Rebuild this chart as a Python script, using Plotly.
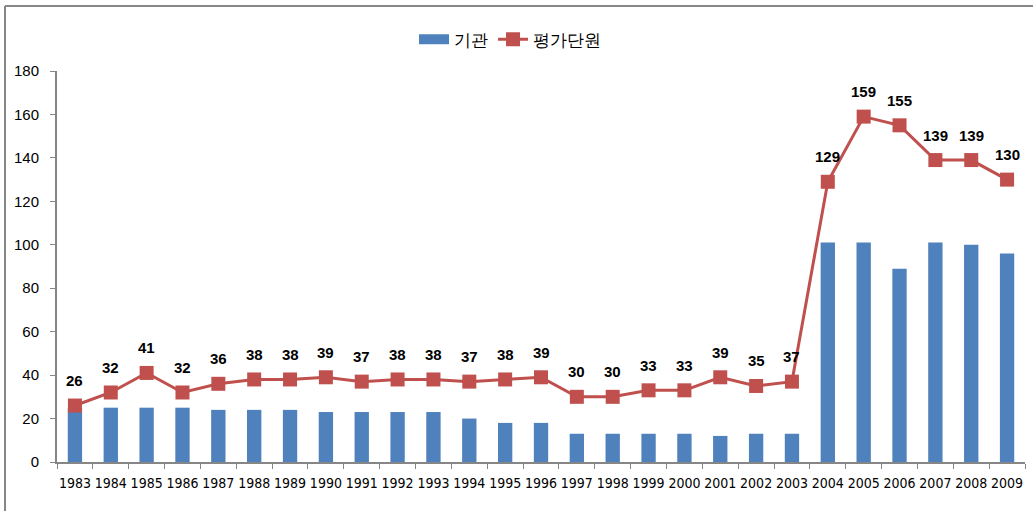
import plotly.graph_objects as go

# -------------------------
# DATA
# -------------------------
years = [str(y) for y in range(1983, 2010)]

institutions = [25, 25, 25, 25, 24, 24, 24, 23, 23, 23, 23, 20, 18, 18,
                13, 13, 13, 13, 12, 13, 13, 101, 101, 89, 101, 100, 96]

eval_units = [26, 32, 41, 32, 36, 38, 38, 39, 37, 38, 38, 37, 38, 39,
              30, 30, 33, 33, 39, 35, 37, 129, 159, 155, 139, 139, 130]

BAR_COLOR = "#4F81BD"
LINE_COLOR = "#C0504D"
AXIS_COLOR = "#868686"

# -------------------------
# TRACES
# -------------------------
bars = go.Bar(
    x=years,
    y=institutions,
    name="기관",
    marker=dict(color=BAR_COLOR, line=dict(width=0)),
    width=0.4,
    showlegend=False,
)

# legend-only entry so the bar key is drawn as a wide block
bar_key = go.Scatter(
    x=[None],
    y=[None],
    name="기관",
    mode="lines",
    line=dict(color=BAR_COLOR, width=10),
)

line = go.Scatter(
    x=years,
    y=eval_units,
    name="평가단원",
    mode="lines+markers",
    line=dict(color=LINE_COLOR, width=3),
    marker=dict(symbol="square", size=14, color=LINE_COLOR),
    cliponaxis=False,
)

# -------------------------
# FIGURE
# -------------------------
fig = go.Figure(data=[bars, bar_key, line])

# value labels above each line point (x given as category index)
for i, v in enumerate(eval_units):
    fig.add_annotation(
        x=i, y=v, xref="x", yref="y",
        text="<b>%d</b>" % v, showarrow=False,
        yshift=25,
        font=dict(family="Liberation Sans", size=15, color="black"),
    )

fig.update_layout(
    width=1033,
    height=511,
    paper_bgcolor="white",
    plot_bgcolor="white",
    margin=dict(l=57, r=8, t=71, b=49),
    font=dict(family="Liberation Sans", size=14, color="black"),
    showlegend=True,
    legend=dict(
        orientation="h",
        x=0.468,
        xanchor="center",
        y=1.08,
        yanchor="middle",
        font=dict(size=17),
        traceorder="normal",
    ),
    shapes=[
        # outer frame (left and top edges)
        dict(type="line", xref="paper", yref="paper",
             x0=-0.0537, x1=-0.0537, y0=-0.2, y1=1.166,
             line=dict(color=AXIS_COLOR, width=2)),
        dict(type="line", xref="paper", yref="paper",
             x0=-0.0537, x1=1.02, y0=1.166, y1=1.166,
             line=dict(color=AXIS_COLOR, width=2)),
    ],
)

fig.update_xaxes(
    type="category",
    range=[-0.5, 26.5],
    showline=True,
    linecolor=AXIS_COLOR,
    linewidth=2,
    ticks="outside",
    tickson="boundaries",
    ticklen=5,
    tickcolor=AXIS_COLOR,
    showgrid=False,
    tickfont=dict(family="DejaVu Sans Condensed, Liberation Sans", size=14, color="black"),
    ticklabelstandoff=7,
    tickangle=0,
)

fig.update_yaxes(
    range=[0, 180],
    dtick=20,
    showline=True,
    linecolor=AXIS_COLOR,
    linewidth=2,
    ticks="outside",
    ticklen=5,
    tickcolor=AXIS_COLOR,
    showgrid=False,
    zeroline=False,
    tickfont=dict(family="Liberation Sans", size=15, color="black"),
    ticklabelstandoff=8,
)

fig.write_html(
    "out.html",
    config={"displayModeBar": False},
    post_script="document.body.style.margin='0';",
)
